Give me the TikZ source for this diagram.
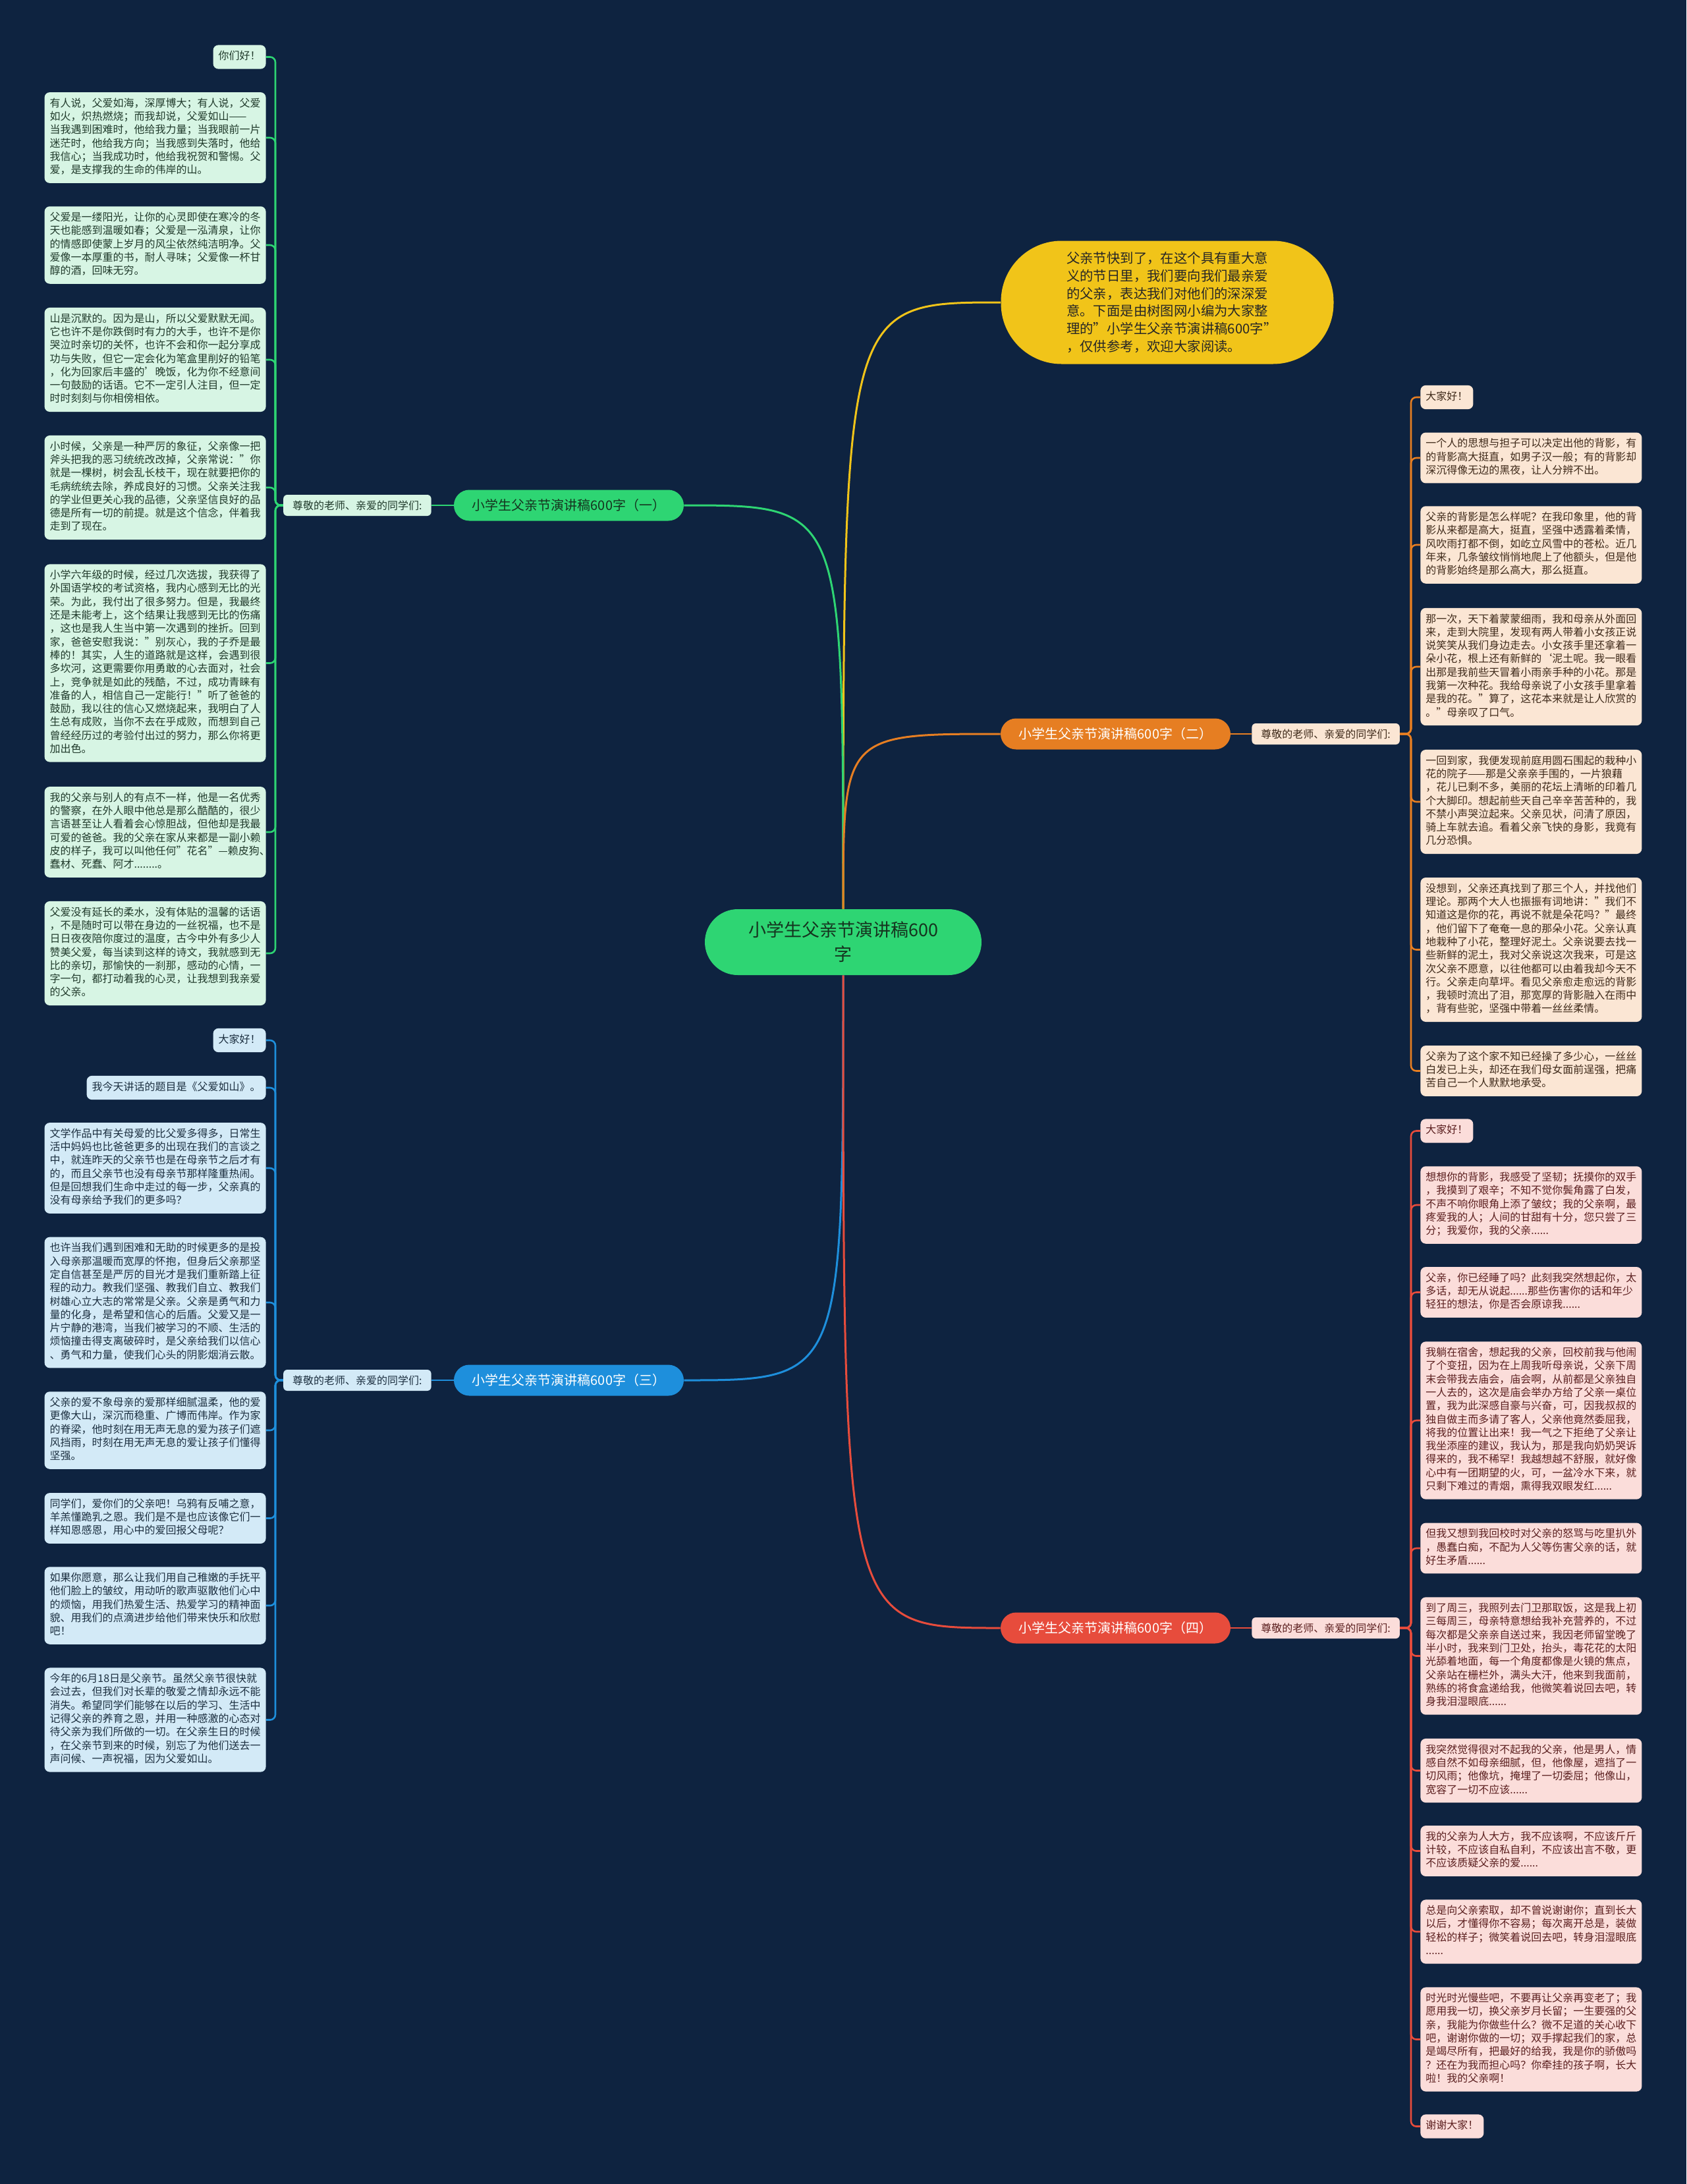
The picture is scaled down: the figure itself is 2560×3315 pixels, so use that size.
\documentclass[tikz,border=0pt]{standalone}
\usepackage{fontspec}
\setmainfont{Noto Sans CJK SC}
\definecolor{bgc}{HTML}{0E2340}
\definecolor{cgreen}{HTML}{2ED573}
\definecolor{cyellow}{HTML}{F1C419}
\definecolor{corange}{HTML}{E67E22}
\definecolor{cblue}{HTML}{1E8FDC}
\definecolor{cred}{HTML}{E74C3C}
\definecolor{fmint}{HTML}{D7F5E4}
\definecolor{tmint}{HTML}{203A2B}
\definecolor{fblue}{HTML}{D3EAF7}
\definecolor{tblue}{HTML}{1C2F40}
\definecolor{fpeach}{HTML}{FBE6D4}
\definecolor{tpeach}{HTML}{3F2A1A}
\definecolor{fpink}{HTML}{FBDDDA}
\definecolor{tpink}{HTML}{5B1F1F}
\definecolor{tdark}{HTML}{15341F}
\tikzset{
  leaf/.style={rounded corners=4pt, inner xsep=4pt, inner ysep=4pt,
    font=\fontsize{8pt}{10.15pt}\selectfont, align=left,
    execute at begin node=\strut, execute at end node=\strut},
  wide/.style={text width=160pt},
  gleaf/.style={leaf, fill=fmint, text=tmint},
  bleaf/.style={leaf, fill=fblue, text=tblue},
  oleaf/.style={leaf, fill=fpeach, text=tpeach},
  rleaf/.style={leaf, fill=fpink, text=tpink},
  lab/.style={rounded corners=3pt, inner xsep=7pt, inner ysep=0pt, minimum height=16pt,
    font=\fontsize{8pt}{10pt}\selectfont},
  branch/.style={rounded corners=11.75pt, inner sep=0pt, minimum width=174.5pt,
    minimum height=23.5pt, font=\fontsize{10pt}{12pt}\selectfont},
  conn/.style={line width=1.3pt, rounded corners=4pt},
  mainconn/.style={line width=1.5pt},
}
\begin{document}
\begin{tikzpicture}[x=0.5pt,y=-0.5pt]
\fill[bgc] (0,0) rectangle (2560,3315);
\useasboundingbox (0,0) rectangle (2560,3315);

% centre
\node[fill=cgreen, text=tdark, rounded corners=25pt, minimum width=210pt, minimum height=50pt,
  inner sep=0pt, align=center, font=\fontsize{13.5pt}{18.5pt}\selectfont] (root) at (1280,1430)
  {小学生父亲节演讲稿600\\字};

% yellow intro
\node[fill=cyellow, text=black!85, rounded corners=46pt, minimum width=252.5pt, minimum height=93.5pt,
  inner sep=0pt, align=left, text width=153pt, font=\fontsize{10.2pt}{13.35pt}\selectfont] (intro) at (1772,459)
  {父亲节快到了，在这个具有重大意\\义的节日里，我们要向我们最亲爱\\的父亲，表达我们对他们的深深爱\\意。下面是由树图网小编为大家整\\理的"小学生父亲节演讲稿600字"\\，仅供参考，欢迎大家阅读。};

% branches
\node[branch, fill=cgreen, text=tdark] (b1) at (863.5,767) {小学生父亲节演讲稿600字（一）};
\node[branch, fill=corange, text=white] (b2) at (1693.5,1114) {小学生父亲节演讲稿600字（二）};
\node[branch, fill=cblue, text=white] (b3) at (863.5,2095) {小学生父亲节演讲稿600字（三）};
\node[branch, fill=cred, text=white] (b4) at (1693.5,2471) {小学生父亲节演讲稿600字（四）};

% labels
\node[lab, fill=fmint, text=tmint, anchor=east] (l1) at (655,767) {尊敬的老师、亲爱的同学们:};
\node[lab, fill=fpeach, text=tpeach, anchor=west] (l2) at (1900,1114) {尊敬的老师、亲爱的同学们:};
\node[lab, fill=fblue, text=tblue, anchor=east] (l3) at (655,2095) {尊敬的老师、亲爱的同学们:};
\node[lab, fill=fpink, text=tpink, anchor=west] (l4) at (1900,2471) {尊敬的老师、亲爱的同学们:};

% centre connectors
\draw[mainconn, cyellow] (root.north) .. controls (root.north |- intro.west) .. (intro.west);
\draw[mainconn, cgreen] (root.north) .. controls (root.north |- b1.east) .. (b1.east);
\draw[mainconn, corange] (root.north) .. controls (root.north |- b2.west) .. (b2.west);
\draw[mainconn, cblue] (root.south) .. controls (root.south |- b3.east) .. (b3.east);
\draw[mainconn, cred] (root.south) .. controls (root.south |- b4.west) .. (b4.west);

\draw[conn, cgreen] (b1.west) -- (l1.east);
\draw[conn, corange] (b2.east) -- (l2.west);
\draw[conn, cblue] (b3.west) -- (l3.east);
\draw[conn, cred] (b4.east) -- (l4.west);

% ---------- left group 1 ----------
\node[gleaf, anchor=east] (a0) at (404,86.5) {你们好！};
\node[gleaf, wide, anchor=east] (a1) at (404,209) {有人说，父爱如海，深厚博大；有人说，父爱\\如火，炽热燃烧；而我却说，父爱如山——\\当我遇到困难时，他给我力量；当我眼前一片\\迷茫时，他给我方向；当我感到失落时，他给\\我信心；当我成功时，他给我祝贺和警惕。父\\爱，是支撑我的生命的伟岸的山。};
\node[gleaf, wide, anchor=east] (a2) at (404,372) {父爱是一缕阳光，让你的心灵即使在寒冷的冬\\天也能感到温暖如春；父爱是一泓清泉，让你\\的情感即使蒙上岁月的风尘依然纯洁明净。父\\爱像一本厚重的书，耐人寻味；父爱像一杯甘\\醇的酒，回味无穷。};
\node[gleaf, wide, anchor=east] (a3) at (404,546) {山是沉默的。因为是山，所以父爱默默无闻。\\它也许不是你跌倒时有力的大手，也许不是你\\哭泣时亲切的关怀，也许不会和你一起分享成\\功与失败，但它一定会化为笔盒里削好的铅笔\\，化为回家后丰盛的'晚饭，化为你不经意间\\一句鼓励的话语。它不一定引人注目，但一定\\时时刻刻与你相傍相依。};
\node[gleaf, wide, anchor=east] (a4) at (404,740) {小时候，父亲是一种严厉的象征，父亲像一把\\斧头把我的恶习统统改改掉，父亲常说："你\\就是一棵树，树会乱长枝干，现在就要把你的\\毛病统统去除，养成良好的习惯。父亲关注我\\的学业但更关心我的品德，父亲坚信良好的品\\德是所有一切的前提。就是这个信念，伴着我\\走到了现在。};
\node[gleaf, wide, anchor=east] (a5) at (404,1006.5) {小学六年级的时候，经过几次选拔，我获得了\\外国语学校的考试资格，我内心感到无比的光\\荣。为此，我付出了很多努力。但是，我最终\\还是未能考上，这个结果让我感到无比的伤痛\\，这也是我人生当中第一次遇到的挫折。回到\\家，爸爸安慰我说："别灰心，我的子乔是最\\棒的！其实，人生的道路就是这样，会遇到很\\多坎河，这更需要你用勇敢的心去面对，社会\\上，竞争就是如此的残酷，不过，成功青睐有\\准备的人，相信自己一定能行！"听了爸爸的\\鼓励，我以往的信心又燃烧起来，我明白了人\\生总有成败，当你不去在乎成败，而想到自己\\曾经经历过的考验付出过的努力，那么你将更\\加出色。};
\node[gleaf, wide, anchor=east] (a6) at (404,1263) {我的父亲与别人的有点不一样，他是一名优秀\\的警察，在外人眼中他总是那么酷酷的，很少\\言语甚至让人看着会心惊胆战，但他却是我最\\可爱的爸爸。我的父亲在家从来都是一副小赖\\\mbox{皮的样子，我可以叫他任何"花名"—赖皮狗、}\\蠢材、死蠢、阿才........。};
\node[gleaf, wide, anchor=east] (a7) at (404,1447) {父爱没有延长的柔水，没有体贴的温馨的话语\\，不是随时可以带在身边的一丝祝福，也不是\\日日夜夜陪你度过的温度，古今中外有多少人\\赞美父爱，每当读到这样的诗文，我就感到无\\比的亲切，那愉快的一刹那，感动的心情，一\\字一句，都打动着我的心灵，让我想到我亲爱\\的父亲。};
\foreach \n in {a0,a1,a2,a3,a4,a5,a6,a7}
  \draw[conn, cgreen] (l1.west) -- (418,767) |- (\n.east);

% ---------- left group 2 ----------
\node[bleaf, anchor=east] (c0) at (404,1579) {大家好！};
\node[bleaf, anchor=east] (c1) at (404,1651) {我今天讲话的题目是《父爱如山》。};
\node[bleaf, wide, anchor=east] (c2) at (404,1773) {文学作品中有关母爱的比父爱多得多，日常生\\活中妈妈也比爸爸更多的出现在我们的言谈之\\中，就连昨天的父亲节也是在母亲节之后才有\\的，而且父亲节也没有母亲节那样隆重热闹。\\但是回想我们生命中走过的每一步，父亲真的\\没有母亲给予我们的更多吗？};
\node[bleaf, wide, anchor=east] (c3) at (404,1977) {也许当我们遇到困难和无助的时候更多的是投\\入母亲那温暖而宽厚的怀抱，但身后父亲那坚\\定自信甚至是严厉的目光才是我们重新踏上征\\程的动力。教我们坚强、教我们自立、教我们\\树雄心立大志的常常是父亲。父亲是勇气和力\\量的化身，是希望和信心的后盾。父爱又是一\\片宁静的港湾，当我们被学习的不顺、生活的\\烦恼撞击得支离破碎时，是父亲给我们以信心\\、勇气和力量，使我们心头的阴影烟消云散。};
\node[bleaf, wide, anchor=east] (c4) at (404,2171) {父亲的爱不象母亲的爱那样细腻温柔，他的爱\\更像大山，深沉而稳重、广博而伟岸。作为家\\的脊梁，他时刻在用无声无息的爱为孩子们遮\\风挡雨，时刻在用无声无息的爱让孩子们懂得\\坚强。};
\node[bleaf, wide, anchor=east] (c5) at (404,2304.5) {同学们，爱你们的父亲吧！乌鸦有反哺之意，\\羊羔懂跪乳之恩。我们是不是也应该像它们一\\样知恩感恩，用心中的爱回报父母呢？};
\node[bleaf, wide, anchor=east] (c6) at (404,2437) {如果你愿意，那么让我们用自己稚嫩的手抚平\\他们脸上的皱纹，用动听的歌声驱散他们心中\\的烦恼，用我们热爱生活、热爱学习的精神面\\貌、用我们的点滴进步给他们带来快乐和欣慰\\吧！};
\node[bleaf, wide, anchor=east] (c7) at (404,2610.5) {今年的6月18日是父亲节。虽然父亲节很快就\\会过去，但我们对长辈的敬爱之情却永远不能\\消失。希望同学们能够在以后的学习、生活中\\记得父亲的养育之恩，并用一种感激的心态对\\待父亲为我们所做的一切。在父亲生日的时候\\，在父亲节到来的时候，别忘了为他们送去一\\声问候、一声祝福，因为父爱如山。};
\foreach \n in {c0,c1,c2,c3,c4,c5,c6,c7}
  \draw[conn, cblue] (l3.west) -- (418,2095) |- (\n.east);

% ---------- right group 1 ----------
\node[oleaf, anchor=west] (o0) at (2156,603) {大家好！};
\node[oleaf, wide, anchor=west] (o1) at (2156,695) {一个人的思想与担子可以决定出他的背影，有\\的背影高大挺直，如男子汉一般；有的背影却\\深沉得像无边的黑夜，让人分辨不出。};
\node[oleaf, wide, anchor=west] (o2) at (2156,827) {父亲的背影是怎么样呢？在我印象里，他的背\\影从来都是高大，挺直，坚强中透露着柔情，\\风吹雨打都不倒，如屹立风雪中的苍松。近几\\年来，几条皱纹悄悄地爬上了他额头，但是他\\的背影始终是那么高大，那么挺直。};
\node[oleaf, wide, anchor=west] (o3) at (2156,1012) {那一次，天下着蒙蒙细雨，我和母亲从外面回\\来，走到大院里，发现有两人带着小女孩正说\\说笑笑从我们身边走去。小女孩手里还拿着一\\朵小花，根上还有新鲜的\symbol{96}泥土呢。我一眼看\\出那是我前些天冒着小雨亲手种的小花。那是\\我第一次种花。我给母亲说了小女孩手里拿着\\是我的花。"算了，这花本来就是让人欣赏的\\。"母亲叹了口气。};
\node[oleaf, wide, anchor=west] (o4) at (2156,1217) {一回到家，我便发现前庭用圆石围起的栽种小\\花的院子——那是父亲亲手围的，一片狼藉\\，花儿已剩不多，美丽的花坛上清晰的印着几\\个大脚印。想起前些天自己辛辛苦苦种的，我\\不禁小声哭泣起来。父亲见状，问清了原因，\\骑上车就去追。看着父亲飞快的身影，我竟有\\几分恐惧。};
\node[oleaf, wide, anchor=west] (o5) at (2156,1441.5) {没想到，父亲还真找到了那三个人，并找他们\\理论。那两个大人也振振有词地讲："我们不\\知道这是你的花，再说不就是朵花吗？"最终\\，他们留下了奄奄一息的那朵小花。父亲认真\\地栽种了小花，整理好泥土。父亲说要去找一\\些新鲜的泥土，我对父亲说这次我来，可是这\\次父亲不愿意，以往他都可以由着我却今天不\\行。父亲走向草坪。看见父亲愈走愈远的背影\\，我顿时流出了泪，那宽厚的背影融入在雨中\\，背有些驼，坚强中带着一丝丝柔情。};
\node[oleaf, wide, anchor=west] (o6) at (2156,1625.5) {父亲为了这个家不知已经操了多少心，一丝丝\\白发已上头，却还在我们母女面前逞强，把痛\\苦自己一个人默默地承受。};
\foreach \n in {o0,o1,o2,o3,o4,o5,o6}
  \draw[conn, corange] (l2.east) -- (2142,1114) |- (\n.west);

% ---------- right group 2 ----------
\node[rleaf, anchor=west] (r0) at (2156,1716.5) {大家好！};
\node[rleaf, wide, anchor=west] (r1) at (2156,1829) {想想你的背影，我感受了坚韧；抚摸你的双手\\，我摸到了艰辛；不知不觉你鬓角露了白发，\\不声不响你眼角上添了皱纹；我的父亲啊，最\\疼爱我的人；人间的甘甜有十分，您只尝了三\\分；我爱你，我的父亲......};
\node[rleaf, wide, anchor=west] (r2) at (2156,1961.5) {父亲，你已经睡了吗？此刻我突然想起你，太\\多话，却无从说起......那些伤害你的话和年少\\轻狂的想法，你是否会原谅我......};
\node[rleaf, wide, anchor=west] (r3) at (2156,2156) {我躺在宿舍，想起我的父亲，回校前我与他闹\\了个变扭，因为在上周我听母亲说，父亲下周\\末会带我去庙会，庙会啊，从前都是父亲独自\\一人去的，这次是庙会举办方给了父亲一桌位\\置，我为此深感自豪与兴奋，可，因我叔叔的\\独自做主而多请了客人，父亲他竟然委屈我，\\将我的位置让出来！我一气之下拒绝了父亲让\\我坐添座的建议，我认为，那是我向奶奶哭诉\\得来的，我不稀罕！我越想越不舒服，就好像\\心中有一团期望的火，可，一盆冷水下来，就\\只剩下难过的青烟，熏得我双眼发红......};
\node[rleaf, wide, anchor=west] (r4) at (2156,2350) {但我又想到我回校时对父亲的怒骂与吃里扒外\\，愚蠢白痴，不配为人父等伤害父亲的话，就\\好生矛盾......};
\node[rleaf, wide, anchor=west] (r5) at (2156,2513.5) {到了周三，我照列去门卫那取饭，这是我上初\\三每周三，母亲特意想给我补充营养的，不过\\每次都是父亲亲自送过来，我因老师留堂晚了\\半小时，我来到门卫处，抬头，毒花花的太阳\\光舔着地面，每一个角度都像是火镜的焦点，\\父亲站在栅栏外，满头大汗，他来到我面前，\\熟练的将食盒递给我，他微笑着说回去吧，转\\身我泪湿眼底......};
\node[rleaf, wide, anchor=west] (r6) at (2156,2687.5) {我突然觉得很对不起我的父亲，他是男人，情\\感自然不如母亲细腻，但，他像屋，遮挡了一\\切风雨；他像坑，掩埋了一切委屈；他像山，\\宽容了一切不应该......};
\node[rleaf, wide, anchor=west] (r7) at (2156,2809.5) {我的父亲为人大方，我不应该啊，不应该斤斤\\计较，不应该自私自利，不应该出言不敬，更\\不应该质疑父亲的爱......};
\node[rleaf, wide, anchor=west] (r8) at (2156,2932) {总是向父亲索取，却不曾说谢谢你；直到长大\\以后，才懂得你不容易；每次离开总是，装做\\轻松的样子；微笑着说回去吧，转身泪湿眼底\\......};
\node[rleaf, wide, anchor=west] (r9) at (2156,3095.5) {时光时光慢些吧，不要再让父亲再变老了；我\\愿用我一切，换父亲岁月长留；一生要强的父\\亲，我能为你做些什么？微不足道的关心收下\\吧，谢谢你做的一切；双手撑起我们的家，总\\是竭尽所有，把最好的给我，我是你的骄傲吗\\？还在为我而担心吗？你牵挂的孩子啊，长大\\啦！我的父亲啊！};
\node[rleaf, anchor=west] (r10) at (2156,3227.5) {谢谢大家！};
\foreach \n in {r0,r1,r2,r3,r4,r5,r6,r7,r8,r9,r10}
  \draw[conn, cred] (l4.east) -- (2142,2471) |- (\n.west);
\end{tikzpicture}
\end{document}
